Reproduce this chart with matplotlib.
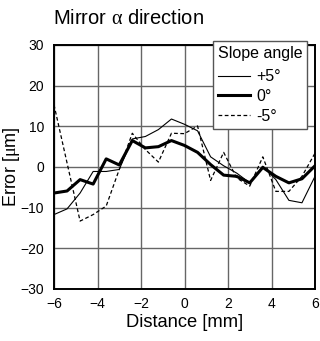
import matplotlib

matplotlib.use("Agg")
import matplotlib.pyplot as plt  # noqa: E402

plt.rcParams["font.family"] = ["Liberation Sans", "DejaVu Sans"]
plt.rcParams["mathtext.fontset"] = "custom"
plt.rcParams["mathtext.rm"] = "Liberation Serif"

distance = [-6.0, -5.4, -4.8, -4.2, -3.6, -3.0, -2.4, -1.8, -1.2, -0.6, 0.0,
            0.6, 1.2, 1.8, 2.4, 3.0, 3.6, 4.2, 4.8, 5.4, 6.0]
err_plus5 = [-11.7, -10.3, -6.4, -1.1, -1.1, -0.6, 6.9, 7.5, 9.2, 11.8, 10.5,
             8.9, 2.5, 0.3, -1.5, -3.9, 0.2, -3.1, -8.2, -8.8, -2.3]
err_zero = [-6.4, -5.9, -3.1, -4.2, 2.0, 0.5, 6.5, 4.7, 5.0, 6.5, 5.3,
            3.6, 0.6, -2.0, -2.3, -3.9, -0.1, -2.3, -3.9, -2.9, 0.3]
err_minus5 = [15.3, 1.0, -13.3, -11.7, -9.6, -0.6, 8.3, 4.3, 1.2, 8.3, 8.2,
              10.1, -3.3, 3.6, -2.7, -4.7, 2.5, -6.0, -6.0, -2.3, 3.4]

fig = plt.figure(figsize=(3.2, 3.41), dpi=100)
ax = fig.add_axes([54 / 320, 1 - 289 / 341, 261 / 320, 244 / 341])

ax.plot(distance, err_plus5, color="black", linewidth=0.8, label="+5°")
ax.plot(distance, err_zero, color="black", linewidth=2.2, label="0°")
ax.plot(distance, err_minus5, color="black", linewidth=0.9, linestyle=(0, (3, 2)),
        label="-5°")

ax.set_xlim(-6, 6)
ax.set_ylim(-30, 30)
ax.set_xticks(range(-6, 7, 2))
ax.set_yticks(range(-30, 31, 10))
ax.tick_params(axis="x", length=0, labelsize=10, pad=6)
ax.tick_params(axis="y", length=0, labelsize=10, pad=7)
ax.grid(True, color="#666666", linewidth=1.0)
ax.set_axisbelow(True)
for sp in ax.spines.values():
    sp.set_linewidth(1.4)
    sp.set_color("black")

ax.set_xlabel("Distance [mm]", fontsize=13.2, labelpad=2)
fig.text(11 / 320, 1 - 167 / 341, r"Error [$\mathrm{\mu}$m]", fontsize=13,
         rotation=90, ha="center", va="center")

leg = ax.legend(title="Slope angle", loc="upper right", fontsize=11.5,
                title_fontsize=11.5, frameon=True, fancybox=False,
                bbox_to_anchor=(307 / 320, 1 - 41 / 341),
                bbox_transform=fig.transFigure,
                borderaxespad=0.0, handlelength=2.0, handletextpad=0.4,
                labelspacing=0.3, borderpad=0.3)
leg.get_frame().set_edgecolor("#555555")
leg.get_frame().set_linewidth(1.0)
leg.get_frame().set_alpha(1)
leg._legend_box.align = "left"
leg._legend_box.sep = 6

fig.text(53 / 320, 1 - 24 / 341, r"Mirror $\mathrm{\alpha}$ direction", fontsize=14.5,
         va="baseline", ha="left")

fig.savefig("out.png", dpi=100)
plt.close(fig)
